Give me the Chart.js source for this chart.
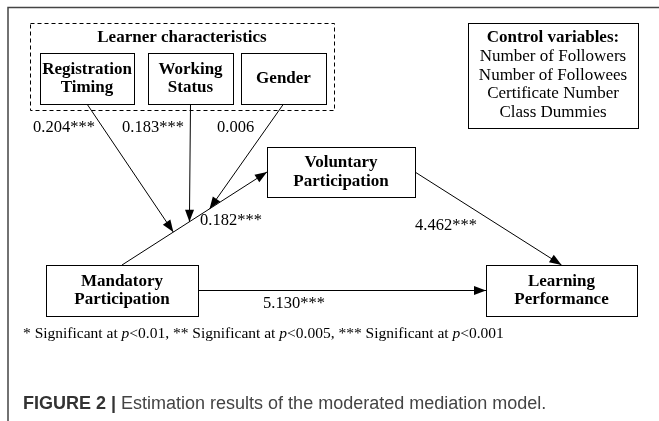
<!DOCTYPE html>
<html>
<head>
<meta charset="utf-8">
<script src="https://cdn.jsdelivr.net/npm/chart.js@4"></script>
<style>
  html, body { margin: 0; padding: 0; background: #fff; }
  #wrap { width: 659px; height: 421px; }
</style>
</head>
<body>
<div id="wrap"><canvas id="diagram" width="659" height="421"></canvas></div>
<script>
// Path labels and estimated coefficients
const moderators = ["Registration Timing", "Working Status", "Gender"];
const moderatorCoefs = [0.204, 0.183, 0.006];
const moderatorStars = ["***", "***", ""];
const pathNames = ["Mandatory -> Voluntary", "Voluntary -> Learning", "Mandatory -> Learning"];
const pathCoefs = [0.182, 4.462, 5.130];
const pathStars = ["***", "***", "***"];
const controlVars = ["Number of Followers", "Number of Followees", "Certificate Number", "Class Dummies"];

// Layout of the boxes (canvas units)
const boxes = {
  reg:  { x0: 40,  y0: 53,  x1: 134, y1: 104, lines: ["Registration", "Timing"] },
  work: { x0: 148, y0: 53,  x1: 233, y1: 104, lines: ["Working", "Status"] },
  gen:  { x0: 241, y0: 53,  x1: 326, y1: 104, lines: ["Gender"] },
  vol:  { x0: 267, y0: 147, x1: 415, y1: 197, lines: ["Voluntary", "Participation"] },
  man:  { x0: 46,  y0: 265, x1: 198, y1: 316, lines: ["Mandatory", "Participation"] },
  perf: { x0: 486, y0: 265, x1: 637, y1: 316, lines: ["Learning", "Performance"] }
};
const modBoxes = [boxes.reg, boxes.work, boxes.gen];
const modTargetT = [0.354, 0.465, 0.604];

function cx(b) { return (b.x0 + b.x1) / 2; }
function cy(b) { return (b.y0 + b.y1) / 2; }

// Main paths
const mainStart = { x: cx(boxes.man), y: boxes.man.y0 };
const mainEnd = { x: boxes.vol.x0, y: cy(boxes.vol) };
const edges = [
  [mainStart, mainEnd],
  [{ x: boxes.vol.x1, y: cy(boxes.vol) }, { x: cx(boxes.perf), y: boxes.perf.y0 }],
  [{ x: boxes.man.x1, y: cy(boxes.man) }, { x: boxes.perf.x0, y: cy(boxes.perf) }]
];
// Moderator arrows point at the mandatory -> voluntary path
modBoxes.forEach(function (b, i) {
  const t = modTargetT[i];
  edges.push([
    { x: cx(b), y: b.y1 },
    { x: mainStart.x + t * (mainEnd.x - mainStart.x), y: mainStart.y + t * (mainEnd.y - mainStart.y) }
  ]);
});

const serif = '"Liberation Serif", "Times New Roman", serif';
const sans = '"Liberation Sans", Arial, sans-serif';

function drawArrowHead(ctx, x0, y0, x1, y1) {
  const a = Math.atan2(y1 - y0, x1 - x0);
  const len = 12, half = 4.5;
  ctx.beginPath();
  ctx.moveTo(x1, y1);
  ctx.lineTo(x1 - len * Math.cos(a) + half * Math.sin(a), y1 - len * Math.sin(a) - half * Math.cos(a));
  ctx.lineTo(x1 - len * Math.cos(a) - half * Math.sin(a), y1 - len * Math.sin(a) + half * Math.cos(a));
  ctx.closePath();
  ctx.fill();
}

function drawRuns(ctx, x, y, runs) {
  runs.forEach(function (r) {
    ctx.font = r[1];
    ctx.fillText(r[0], x, y);
    x += ctx.measureText(r[0]).width;
  });
}

const diagramPlugin = {
  id: 'diagram',
  beforeDraw(chart) {
    const ctx = chart.ctx;
    ctx.save();
    ctx.fillStyle = '#fff';
    ctx.fillRect(0, 0, chart.width, chart.height);
    ctx.restore();
  },
  afterDatasetsDraw(chart) {
    const ctx = chart.ctx;
    const xs = chart.scales.x, ys = chart.scales.y;
    const px = v => xs.getPixelForValue(v);
    const py = v => ys.getPixelForValue(v);
    ctx.save();

    // frame
    ctx.strokeStyle = '#444';
    ctx.lineWidth = 1.5;
    ctx.beginPath();
    ctx.moveTo(px(659), py(7.5));
    ctx.lineTo(px(8), py(7.5));
    ctx.lineTo(px(8), py(421));
    ctx.stroke();

    // dashed group box
    ctx.strokeStyle = '#000';
    ctx.lineWidth = 1;
    ctx.setLineDash([4, 3]);
    ctx.strokeRect(px(30) + 0.5, py(23) + 0.5, px(334) - px(30), py(110) - py(23));
    ctx.setLineDash([]);

    ctx.fillStyle = '#000';
    ctx.textAlign = 'center';
    ctx.textBaseline = 'middle';
    ctx.font = 'bold 17px ' + serif;
    ctx.fillText('Learner characteristics', px(182), py(38));

    // boxes
    Object.keys(boxes).forEach(function (k) {
      const b = boxes[k];
      ctx.fillStyle = '#fff';
      ctx.fillRect(px(b.x0), py(b.y0), px(b.x1) - px(b.x0), py(b.y1) - py(b.y0));
      ctx.strokeStyle = '#000';
      ctx.strokeRect(px(b.x0) + 0.5, py(b.y0) + 0.5, px(b.x1) - px(b.x0), py(b.y1) - py(b.y0));
      ctx.fillStyle = '#000';
      ctx.font = 'bold 17px ' + serif;
      const n = b.lines.length;
      b.lines.forEach(function (t, i) {
        ctx.fillText(t, px(cx(b)), py(cy(b) + (i - (n - 1) / 2) * 18.5));
      });
    });

    // control variables box
    ctx.strokeRect(px(468) + 0.5, py(23) + 0.5, px(638) - px(468), py(128) - py(23));
    ctx.font = 'bold 17px ' + serif;
    ctx.fillText('Control variables:', px(553), py(38));
    ctx.font = '17px ' + serif;
    controlVars.forEach(function (t, i) {
      ctx.fillText(t, px(553), py(57 + i * 18.5));
    });

    // arrowheads
    chart.data.datasets.forEach(function (ds, i) {
      const meta = chart.getDatasetMeta(i);
      const p0 = meta.data[0], p1 = meta.data[1];
      drawArrowHead(ctx, p0.x, p0.y, p1.x, p1.y);
    });

    // coefficient labels
    ctx.font = '16.5px ' + serif;
    ctx.textAlign = 'left';
    const modLabelX = [33, 122, 217];
    moderatorCoefs.forEach(function (c, i) {
      ctx.fillText(c.toFixed(3) + moderatorStars[i], px(modLabelX[i]), py(128));
    });
    const pathLabelPos = [[200, 221], [415, 226], [263, 304]];
    pathCoefs.forEach(function (c, i) {
      ctx.fillText(c.toFixed(3) + pathStars[i], px(pathLabelPos[i][0]), py(pathLabelPos[i][1]));
    });

    // footnote
    const fn = '15.5px ' + serif, fi = 'italic 15.5px ' + serif;
    drawRuns(ctx, px(23), py(334), [
      ['* Significant at ', fn], ['p', fi], ['<0.01, ** Significant at ', fn], ['p', fi],
      ['<0.005, *** Significant at ', fn], ['p', fi], ['<0.001', fn]
    ]);

    // caption
    ctx.fillStyle = '#333';
    ctx.font = 'bold 18px ' + sans;
    ctx.fillText('FIGURE 2 |', px(23), py(404));
    const w = ctx.measureText('FIGURE 2 |').width;
    ctx.fillStyle = '#444';
    ctx.font = '18px ' + sans;
    ctx.fillText(' Estimation results of the moderated mediation model.', px(23) + w, py(404));

    ctx.restore();
  }
};

new Chart(document.getElementById('diagram').getContext('2d'), {
  type: 'scatter',
  data: {
    datasets: edges.map(function (e, i) {
      return {
        label: i < 3 ? pathNames[i] : moderators[i - 3],
        data: e,
        showLine: true,
        borderColor: '#000',
        borderWidth: 1,
        pointRadius: 0,
        fill: false
      };
    })
  },
  options: {
    responsive: false,
    animation: false,
    layout: { padding: 0 },
    scales: {
      x: { type: 'linear', min: 0, max: 659, display: false },
      y: { type: 'linear', min: 0, max: 421, reverse: true, display: false }
    },
    plugins: {
      legend: { display: false },
      tooltip: { enabled: false }
    }
  },
  plugins: [diagramPlugin]
});
</script>
</body>
</html>
